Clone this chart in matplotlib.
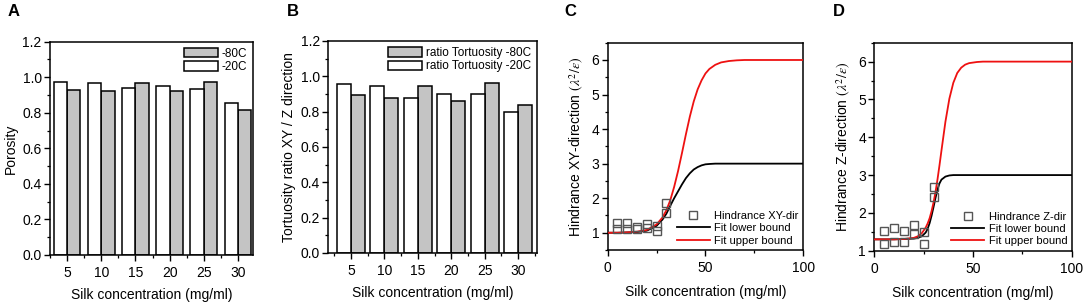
import matplotlib
matplotlib.use("Agg")
import matplotlib.pyplot as plt
from matplotlib.ticker import MultipleLocator, FormatStrFormatter
import numpy as np

plt.rcParams['font.family'] = ['Liberation Sans', 'DejaVu Sans']
plt.rcParams['mathtext.fontset'] = 'stix'

# ---------------- data ----------------
conc = [5, 10, 15, 20, 25, 30]

porosity_m20 = [0.975, 0.970, 0.940, 0.950, 0.935, 0.855]
porosity_m80 = [0.930, 0.925, 0.965, 0.920, 0.975, 0.815]

tort_m20 = [0.955, 0.945, 0.875, 0.900, 0.900, 0.800]
tort_m80 = [0.895, 0.880, 0.945, 0.860, 0.960, 0.835]

# Panel C: measured hindrance (two samples per concentration)
hxy_x = [5, 5, 10, 10, 15, 15, 20, 20, 25, 25, 30, 30]
hxy_y = [1.27, 1.10, 1.27, 1.10, 1.18, 1.11, 1.26, 1.13, 1.20, 1.06, 1.87, 1.56]

# Panel C fits
fitc_x = [0, 5, 10, 15, 20, 25, 28, 30, 32, 34, 36, 38, 40, 42, 44, 46, 48, 50, 52, 55, 58, 62, 66, 70, 80, 100]
fitc_upper = [1.00, 1.00, 1.01, 1.03, 1.08, 1.24, 1.44, 1.65, 1.94, 2.33, 2.79, 3.31, 3.85, 4.36, 4.80, 5.15,
              5.41, 5.61, 5.74, 5.86, 5.93, 5.97, 5.99, 6.00, 6.00, 6.00]
fitc_lower = [1.00, 1.00, 1.01, 1.02, 1.06, 1.20, 1.38, 1.55, 1.78, 2.00, 2.20, 2.40, 2.58, 2.72, 2.83, 2.90,
              2.95, 2.98, 2.99, 3.00, 3.00, 3.00, 3.00, 3.00, 3.00, 3.00]

# Panel D: measured hindrance
hz_x = [5, 5, 10, 10, 15, 15, 20, 20, 25, 25, 30, 30]
hz_y = [1.53, 1.19, 1.59, 1.22, 1.53, 1.24, 1.68, 1.44, 1.49, 1.19, 2.68, 2.43]

fitd_x = [0, 10, 15, 20, 22, 24, 26, 27, 28, 29, 30, 31, 32, 33, 34, 36, 38, 40, 42, 44, 46, 48, 52, 55, 70, 100]
fitd_upper = [1.30, 1.30, 1.31, 1.34, 1.38, 1.46, 1.61, 1.72, 1.86, 2.05, 2.28, 2.56, 2.89, 3.26, 3.65, 4.41,
              5.02, 5.44, 5.70, 5.84, 5.92, 5.96, 5.99, 6.00, 6.00, 6.00]
fitd_lower = [1.30, 1.30, 1.31, 1.32, 1.34, 1.38, 1.48, 1.58, 1.73, 1.93, 2.16, 2.40, 2.62, 2.78, 2.88, 2.96,
              2.99, 3.00, 3.00, 3.00, 3.00, 3.00, 3.00, 3.00, 3.00, 3.00]

# ---------------- figure ----------------
fig = plt.figure(figsize=(10.84, 3.04), dpi=100)

axA = fig.add_axes([0.0461, 0.1612, 0.1873, 0.7016])
axB = fig.add_axes([0.3029, 0.1678, 0.1923, 0.6974])
axC = fig.add_axes([0.5606, 0.1776, 0.1804, 0.6819])
axD = fig.add_axes([0.8066, 0.1753, 0.1821, 0.6842])

GRAY = '#c4c4c4'
TICK_FS = 10
LAB_FS = 10


def style(ax):
    for s in ax.spines.values():
        s.set_linewidth(1.1)
    ax.tick_params(which='major', direction='out', length=4, width=1.0, labelsize=TICK_FS,
                   top=False, right=False, pad=2)
    ax.tick_params(axis='x', which='major', pad=4)
    ax.tick_params(which='minor', direction='out', length=2.5, width=0.9, top=False, right=False)


def bar_panel(ax, white, gray, lab_gray, lab_white, ylabel, xlim, bw):
    x = np.array(conc, dtype=float)
    bg = ax.bar(x + bw / 2, gray, width=bw, color=GRAY, edgecolor='black', linewidth=1.1, label=lab_gray)
    bwh = ax.bar(x - bw / 2, white, width=bw, color='white', edgecolor='black', linewidth=1.1, label=lab_white)
    ax.set_xlim(*xlim)
    ax.set_ylim(0, 1.2)
    ax.set_xticks(conc)
    ax.xaxis.set_minor_locator(MultipleLocator(2.5))
    ax.yaxis.set_major_locator(MultipleLocator(0.2))
    ax.yaxis.set_minor_locator(MultipleLocator(0.1))
    ax.yaxis.set_major_formatter(FormatStrFormatter('%.1f'))
    ax.set_xlabel('Silk concentration (mg/ml)', fontsize=LAB_FS, labelpad=6)
    ax.set_ylabel(ylabel, fontsize=LAB_FS, labelpad=3)
    style(ax)
    ax.legend(handles=[bg, bwh], loc='upper right', frameon=False, fontsize=8.5,
              handlelength=2.9, handleheight=0.85, handletextpad=0.3, labelspacing=0.12,
              borderaxespad=0.3, borderpad=0.2)


bar_panel(axA, porosity_m20, porosity_m80, '-80C', '-20C', 'Porosity', (2.5, 32.2), 1.95)
bar_panel(axB, tort_m20, tort_m80, 'ratio Tortuosity -80C', 'ratio Tortuosity -20C',
          'Tortuosity ratio XY / Z direction', (1.6, 32.8), 2.1)


def fit_panel(ax, px, py, fx, fl, fu, lab_pts, ylabel, ylim):
    ax.plot(fx, fl, color='black', lw=1.3, label='Fit lower bound', zorder=2)
    ax.plot(fx, fu, color='#ee1111', lw=1.3, label='Fit upper bound', zorder=3)
    ax.plot(px, py, ls='none', marker='s', ms=6, mfc='none', mec='#555555', mew=1.0,
            label=lab_pts, zorder=4)
    ax.set_xlim(0, 100)
    ax.set_ylim(*ylim)
    ax.xaxis.set_major_locator(MultipleLocator(50))
    ax.xaxis.set_minor_locator(MultipleLocator(25))
    ax.yaxis.set_major_locator(MultipleLocator(1))
    ax.yaxis.set_minor_locator(MultipleLocator(0.5))
    ax.set_xlabel('Silk concentration (mg/ml)', fontsize=LAB_FS, labelpad=7)
    ax.set_ylabel(ylabel, fontsize=LAB_FS, labelpad=4)
    style(ax)
    h, l = ax.get_legend_handles_labels()
    order = [2, 0, 1]
    ax.legend([h[i] for i in order], [l[i] for i in order], loc='lower right', frameon=False,
              fontsize=8, handlelength=3.0, handletextpad=0.4, labelspacing=0.2,
              borderaxespad=0.2, borderpad=0.2)


fit_panel(axC, hxy_x, hxy_y, fitc_x, fitc_lower, fitc_upper, 'Hindrance XY-dir',
          r'Hindrance XY-direction $(\lambda^2/\varepsilon)$', (0.5, 6.5))
fit_panel(axD, hz_x, hz_y, fitd_x, fitd_lower, fitd_upper, 'Hindrance Z-dir',
          r'Hindrance Z-direction $(\lambda^2/\varepsilon)$', (1.0, 6.5))

# panel letters
for letter, xpx in [('A', 8), ('B', 287), ('C', 564), ('D', 833)]:
    fig.text(xpx / 1084, 1 - 12 / 304, letter, fontsize=12, fontweight='bold', va='center', ha='left')

fig.savefig('out.png', dpi=100)
